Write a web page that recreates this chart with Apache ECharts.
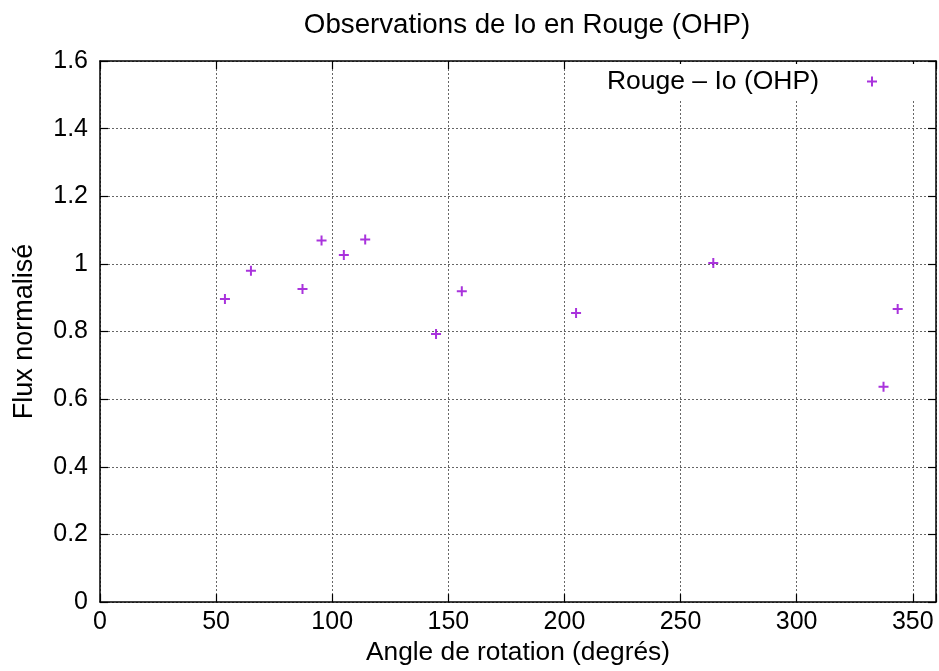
<!DOCTYPE html>
<html>
<head>
<meta charset="utf-8">
<script src="https://cdn.jsdelivr.net/npm/echarts@6/dist/echarts.min.js"></script>
<style>
  html, body { margin: 0; padding: 0; background: #fff; }
  #chart { width: 939px; height: 671px; }
</style>
</head>
<body>
<div id="chart"></div>
<script>
// angles de rotation (degrés) et flux normalisé
const angles = [53.8, 65.0, 87.2, 95.4, 105.0, 114.2, 144.7, 155.8, 205.0, 264.1, 337.4, 343.5]
const flux = [0.896, 0.980, 0.926, 1.069, 1.026, 1.072, 0.793, 0.919, 0.855, 1.003, 0.637, 0.867]
const seriesName = 'Rouge – Io (OHP)'

const font = "'Liberation Sans', Arial, Helvetica, sans-serif"
const plus = 'path://M4,0H6V4H10V6H6V10H4V6H0V4H4Z'
const purple = '#9400D3'

const chart = echarts.init(document.getElementById('chart'))

const gridLine = { show: true, lineStyle: { color: '#666', width: 1, type: [2, 2] } }
const border = { show: true, onZero: false, lineStyle: { color: '#000', width: 1.5 } }
const ticks = { show: true, inside: true, length: 8, lineStyle: { color: '#000', width: 1.2 } }

const option = {
  animation: false,
  textStyle: { fontFamily: font },
  title: {
    text: 'Observations de Io en Rouge (OHP)',
    left: 522,
    textAlign: 'center',
    top: 6,
    textStyle: { fontFamily: font, fontSize: 27.7, fontWeight: 'normal', color: '#000' }
  },
  legend: {
    data: [seriesName],
    right: 22,
    top: 64,
    align: 'right',
    icon: plus,
    itemWidth: 10,
    itemHeight: 10,
    padding: [4, 40, 4, 30],
    backgroundColor: '#fff',
    selectedMode: false,
    textStyle: { fontFamily: font, fontSize: 26.5, color: '#000', padding: [0, 43, 0, 0] }
  },
  grid: { left: 100, right: 3, top: 61, bottom: 64 },
  xAxis: [
    {
      type: 'value',
      min: 0,
      max: 360,
      interval: 50,
      name: 'Angle de rotation (degrés)',
      nameLocation: 'middle',
      nameGap: 35,
      nameTextStyle: { fontFamily: font, fontSize: 26.3, color: '#000' },
      axisLine: border,
      axisTick: ticks,
      axisLabel: {
        margin: 8,
        fontFamily: font,
        fontSize: 25,
        color: '#000',
        formatter: v => (v > 350 ? '' : v)
      },
      splitLine: gridLine
    },
    {
      type: 'value',
      position: 'top',
      min: 0,
      max: 360,
      interval: 50,
      axisLine: border,
      axisTick: ticks,
      axisLabel: { show: false },
      splitLine: { show: false }
    }
  ],
  yAxis: [
    {
      type: 'value',
      min: 0,
      max: 1.6,
      interval: 0.2,
      name: 'Flux normalisé',
      nameLocation: 'middle',
      nameGap: 62,
      nameTextStyle: { fontFamily: font, fontSize: 27, color: '#000' },
      axisLine: border,
      axisTick: ticks,
      axisLabel: { margin: 12, fontFamily: font, fontSize: 25, color: '#000' },
      splitLine: gridLine
    },
    {
      type: 'value',
      position: 'right',
      min: 0,
      max: 1.6,
      interval: 0.2,
      axisLine: border,
      axisTick: ticks,
      axisLabel: { show: false },
      splitLine: { show: false }
    }
  ],
  series: [
    {
      name: seriesName,
      type: 'scatter',
      xAxisIndex: 0,
      yAxisIndex: 0,
      symbol: plus,
      symbolSize: 10,
      itemStyle: { color: purple },
      data: angles.map((a, i) => [a, flux[i]])
    }
  ]
}

chart.setOption(option)
</script>
</body>
</html>
